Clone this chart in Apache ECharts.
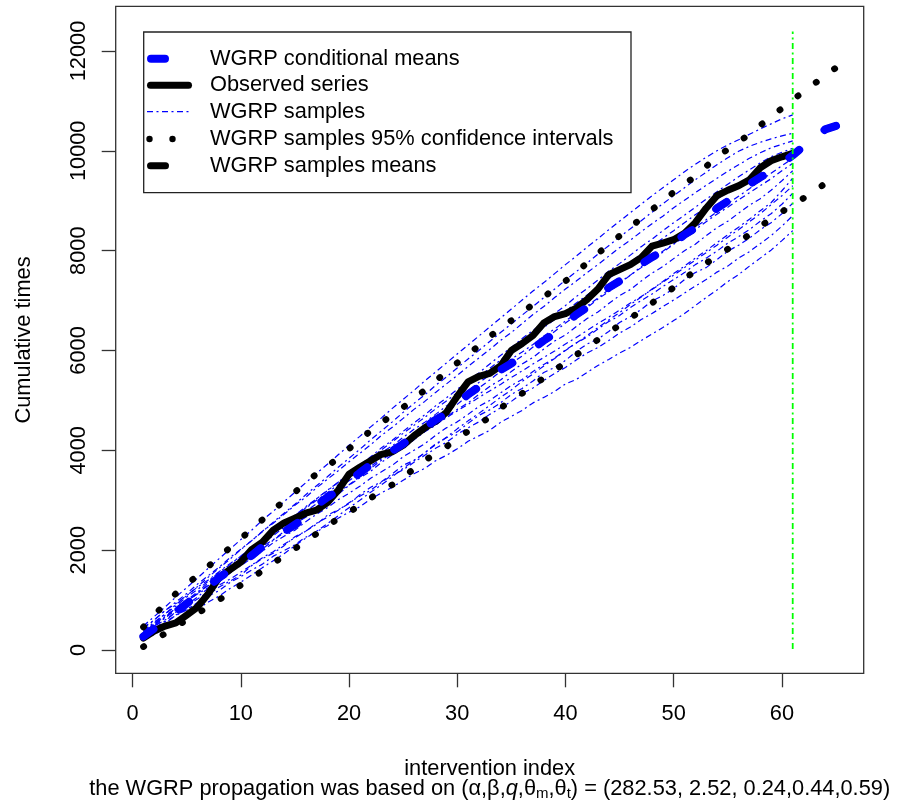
<!DOCTYPE html>
<html><head><meta charset="utf-8">
<script src="https://cdn.jsdelivr.net/npm/echarts@6/dist/echarts.min.js"></script>
<style>html,body{margin:0;padding:0;background:#fff}#c{width:903px;height:807px}</style>
</head><body><div id="c"></div>
<script>
const xTicks = [0, 10, 20, 30, 40, 50, 60];
const yTicks = [0, 2000, 4000, 6000, 8000, 10000, 12000];

const observed = [240,380,480,545,700,860,1130,1450,1610,1760,2010,2160,2400,2545,2640,2740,2800,2950,3200,3520,
3660,3790,3920,3970,4100,4290,4450,4580,4760,5080,5370,5480,5540,5690,6000,6140,6300,6550,6680,6740,
6850,7020,7230,7520,7620,7720,7860,8090,8150,8220,8350,8560,8850,9100,9210,9300,9420,9660,9800,9880,9950];

const conditionalMeans = [270,430,590,760,930,1100,1270,1450,1600,1740,1890,2070,2240,2370,2510,2650,2900,3060,3190,3380,
3550,3710,3850,3990,4130,4290,4460,4610,4740,4930,5120,5270,5420,5610,5740,5880,6040,6200,6340,6540,
6720,6860,7050,7260,7390,7530,7730,7870,7990,8150,8320,8450,8630,8850,8990,9150,9330,9470,9590,9750,
9910,10090,10240,10430,10500];

const samplesMeans = [270,430,590,760,930,1100,1270,1450,1600,1740,1890,2070,2240,2370,2510,2650,2900,3060,3190,3380,
3550,3710,3850,3990,4130,4290,4460,4610,4740,4930,5120,5270,5420,5610,5740,5880,6040,6200,6340,6540,
6720,6860,7050,7260,7390,7530,7730,7870,7990,8150,8320,8450,8630,8850,8990,9150,9330,9470,9590,9750,
9910,10090,10240,10430,10500];

const ciUpper = [461,700,920,1130,1315,1490,1675,1860,2050,2230,2420,2610,2805,2985,3160,3350,3530,3675,3850,4030,
4215,4390,4554,4705,4860,5025,5205,5390,5570,5750,5910,6100,6280,6435,6600,6765,6920,7075,7230,7390,
7567,7755,7940,8125,8295,8470,8645,8820,9001,9170,9330,9490,9685,9880,10030,10180,10330,10510,10680,10850,
11020,11185,11345,11505,11665];

const ciLower = [66,200,330,465,605,730,870,1005,1150,1300,1435,1590,1740,1885,2030,2180,2330,2490,2630,2760,
2900,3045,3175,3310,3460,3630,3800,3930,4070,4240,4380,4510,4670,4850,4990,5140,5295,5450,5605,5755,
5910,6065,6215,6355,6510,6650,6795,6950,7106,7260,7425,7605,7750,7880,8030,8180,8320,8480,8645,8780,
8915,9050,9195,9345,9460];

const sample01 = [300,420,560,690,800,950,1080,1190,1350,1470,1600,1720,1880,1990,2110,2260,2370,2490,2640,2760,2870,3020,3150,3260,3400,3530,3640,3790,3900,4030,4180,4290,4400,4560,4680,4800,4950,5060,5180,5330,5420,5560,5700,5820,5950,6060,6200,6330,6460,6600,6740,6900,7060,7210,7380,7520,7690,7850,8010,8200,8400];
const sample02 = [350,480,600,760,880,1020,1170,1300,1420,1560,1700,1850,1970,2120,2250,2380,2540,2660,2800,2950,3080,3200,3360,3500,3610,3760,3900,4040,4160,4320,4450,4570,4720,4850,4980,5140,5250,5400,5540,5660,5810,5950,6060,6200,6350,6470,6620,6740,6880,7010,7150,7290,7420,7570,7690,7850,7980,8140,8300,8490,8700];
const sample03 = [250,380,530,700,820,930,1110,1260,1380,1500,1690,1830,1940,2090,2270,2380,2520,2700,2810,2930,3110,3260,3370,3530,3700,3800,3950,4130,4250,4370,4540,4700,4810,4950,5120,5240,5390,5560,5660,5800,5980,6130,6230,6380,6560,6680,6820,6990,7100,7240,7420,7560,7660,7820,7990,8110,8250,8420,8560,8740,8950];
const sample04 = [400,520,690,830,990,1120,1250,1420,1560,1690,1840,1980,2150,2280,2400,2570,2720,2850,3010,3140,3280,3440,3570,3700,3870,4000,4130,4300,4450,4570,4720,4880,5000,5150,5300,5420,5580,5720,5850,6010,6150,6270,6430,6580,6700,6860,7000,7130,7280,7420,7560,7720,7850,7990,8150,8280,8420,8590,8740,8930,9150];
const sample05 = [300,470,640,800,980,1130,1310,1470,1640,1800,1960,2130,2290,2460,2610,2780,2930,3080,3240,3390,3540,3680,3830,3970,4100,4250,4380,4520,4650,4790,4920,5060,5190,5320,5460,5590,5730,5860,5990,6130,6260,6400,6540,6670,6810,6950,7080,7220,7370,7510,7660,7810,7960,8110,8270,8420,8580,8740,8920,9100,9300];
const sample06 = [200,310,450,560,700,820,960,1080,1230,1360,1500,1650,1790,1930,2090,2240,2380,2530,2690,2850,3000,3160,3310,3470,3640,3790,3950,4110,4260,4430,4590,4740,4900,5060,5210,5380,5530,5690,5840,6000,6150,6300,6460,6610,6760,6920,7070,7230,7380,7540,7690,7850,8000,8160,8320,8470,8630,8800,8960,9200,9450];
const sample07 = [350,520,660,830,960,1140,1290,1440,1610,1740,1900,2080,2210,2370,2530,2660,2840,2990,3120,3300,3450,3580,3760,3910,4040,4210,4370,4500,4670,4820,4950,5120,5280,5410,5580,5730,5860,6030,6190,6310,6480,6640,6770,6940,7100,7220,7390,7550,7680,7840,8000,8130,8300,8460,8590,8750,8910,9040,9210,9400,9600];
const sample08 = [450,600,790,930,1090,1260,1400,1570,1730,1880,2050,2200,2360,2530,2680,2840,3000,3150,3310,3480,3620,3790,3950,4090,4260,4420,4560,4720,4890,5030,5190,5360,5500,5660,5830,5970,6120,6290,6430,6590,6750,6890,7050,7220,7360,7510,7680,7820,7970,8130,8270,8420,8580,8730,8870,9020,9160,9300,9440,9600,9750];
const sample09 = [280,430,580,760,910,1060,1240,1390,1540,1720,1870,2020,2200,2350,2500,2680,2830,2980,3160,3310,3470,3640,3800,3950,4130,4280,4440,4610,4770,4920,5100,5250,5410,5580,5740,5890,6070,6220,6380,6550,6700,6860,7030,7180,7340,7510,7660,7820,7990,8140,8300,8470,8620,8780,8940,9090,9240,9400,9550,9700,9850];
const sample10 = [380,560,720,880,1060,1210,1380,1560,1710,1880,2050,2200,2380,2540,2700,2870,3030,3190,3360,3520,3680,3850,4010,4170,4340,4500,4660,4830,4990,5150,5320,5480,5640,5810,5970,6130,6300,6460,6620,6790,6950,7110,7280,7440,7600,7770,7930,8090,8250,8400,8560,8720,8870,9030,9180,9330,9480,9620,9760,9860,9950];
const sample11 = [320,500,650,840,1000,1160,1350,1500,1680,1850,2010,2190,2350,2520,2700,2850,3030,3200,3360,3540,3700,3870,4050,4200,4380,4550,4710,4890,5050,5220,5400,5550,5730,5900,6060,6240,6400,6570,6740,6900,7080,7240,7410,7590,7740,7910,8080,8230,8400,8560,8710,8870,9030,9180,9330,9480,9620,9760,9880,9970,10050];
const sample12 = [420,600,790,960,1130,1320,1490,1660,1850,2020,2190,2380,2540,2720,2900,3060,3250,3420,3590,3770,3940,4110,4300,4460,4640,4820,4980,5160,5330,5500,5680,5850,6020,6200,6360,6540,6720,6880,7060,7230,7390,7560,7720,7890,8060,8210,8380,8540,8690,8860,9010,9160,9310,9450,9590,9720,9850,9960,10060,10130,10200];
const sample13 = [350,540,720,910,1090,1270,1460,1640,1820,2010,2190,2370,2560,2740,2920,3110,3290,3470,3660,3840,4020,4210,4390,4570,4760,4940,5110,5300,5470,5650,5830,6000,6180,6360,6530,6710,6880,7060,7230,7410,7580,7750,7930,8100,8270,8440,8600,8770,8940,9100,9260,9420,9570,9720,9860,9990,10090,10170,10240,10300,10350];
const sample14 = [480,670,860,1060,1250,1440,1640,1830,2020,2210,2400,2600,2780,2970,3160,3350,3540,3720,3910,4100,4280,4470,4650,4840,5020,5200,5390,5570,5750,5930,6110,6290,6470,6650,6830,7010,7190,7360,7540,7720,7890,8070,8240,8420,8590,8760,8930,9100,9260,9420,9580,9730,9870,10000,10120,10220,10330,10440,10540,10640,10720];

const samples = [sample01,sample02,sample03,sample04,sample05,sample06,sample07,sample08,sample09,sample10,sample11,sample12,sample13,sample14];

const vlineX = 61;
const vlineY = [20, 12390];

const legendLabels = ['WGRP conditional means','Observed series','WGRP samples','WGRP samples 95% confidence intervals','WGRP samples means'];
const xTitle = 'intervention index';
const yTitle = 'Cumulative times';

const FONT = '"Liberation Sans", Arial, Helvetica, sans-serif';
const FS = 21.8;
const DASHDOT = [6, 3.5, 2, 3.5];
const MEANDASH = [12.5, 32.3];

function pairs(arr) { return arr.map((v, i) => [i + 1, v]); }

const series = [];
samples.forEach((s) => {
  series.push({
    type: 'line', name: 'WGRP samples', data: pairs(s), showSymbol: false, silent: true,
    lineStyle: { color: '#0000ff', width: 1.2, type: DASHDOT }, z: 2
  });
});
series.push({ type: 'line', name: 'ci upper', data: pairs(ciUpper), showSymbol: false,
  lineStyle: { color: '#000', width: 6.5, type: [0.5, 22.3], cap: 'round' }, z: 3 });
series.push({ type: 'line', name: 'ci lower', data: pairs(ciLower), showSymbol: false,
  lineStyle: { color: '#000', width: 6.5, type: [0.5, 22.3], cap: 'round' }, z: 3 });
series.push({ type: 'line', name: 'samples means', data: pairs(samplesMeans), showSymbol: false,
  lineStyle: { color: '#000', width: 7, type: MEANDASH, cap: 'round' }, z: 4 });
series.push({ type: 'line', name: 'observed', data: pairs(observed), showSymbol: false,
  lineStyle: { color: '#000', width: 7, cap: 'round', join: 'round' }, z: 5 });
series.push({ type: 'line', name: 'conditional means', data: pairs(conditionalMeans), showSymbol: false,
  lineStyle: { color: '#0000ff', width: 8, type: MEANDASH, cap: 'round' }, z: 6 });
series.push({ type: 'line', name: 'vline', data: vlineY.map(v => [vlineX, v]), showSymbol: false,
  lineStyle: { color: '#00ff00', width: 1.8, type: DASHDOT }, z: 7 });

const legY = [58.7, 85.3, 111.7, 139, 165.7];
const graphics = [
  { type: 'rect', z: 100, shape: { x: 143.7, y: 32, width: 487.3, height: 160.7 },
    style: { fill: '#fff', stroke: '#222', lineWidth: 1.3 } },
  { type: 'line', z: 101, shape: { x1: 151, y1: legY[0], x2: 165, y2: legY[0] },
    style: { stroke: '#0000ff', lineWidth: 8, lineCap: 'round' } },
  { type: 'line', z: 101, shape: { x1: 150.5, y1: legY[1], x2: 188.5, y2: legY[1] },
    style: { stroke: '#000', lineWidth: 7, lineCap: 'round' } },
  { type: 'line', z: 101, shape: { x1: 147, y1: legY[2], x2: 192, y2: legY[2] },
    style: { stroke: '#0000ff', lineWidth: 1.2, lineDash: DASHDOT } },
  { type: 'circle', z: 101, shape: { cx: 149.5, cy: legY[3], r: 3.2 }, style: { fill: '#000' } },
  { type: 'circle', z: 101, shape: { cx: 172.5, cy: legY[3], r: 3.2 }, style: { fill: '#000' } },
  { type: 'line', z: 101, shape: { x1: 150.5, y1: legY[4], x2: 165.5, y2: legY[4] },
    style: { stroke: '#000', lineWidth: 7, lineCap: 'round' } }
];
legendLabels.forEach((t, i) => {
  graphics.push({ type: 'text', z: 101, x: 210, y: legY[i],
    style: { text: t, fill: '#000', fontSize: FS, fontFamily: FONT, align: 'left', verticalAlign: 'middle' } });
});
graphics.push({ type: 'text', x: 24, y: 340, rotation: Math.PI / 2,
  style: { text: yTitle, fill: '#000', fontSize: FS, fontFamily: FONT, align: 'center', verticalAlign: 'middle' } });
graphics.push({ type: 'text', x: 489.7, y: 769,
  style: { text: xTitle, fill: '#000', fontSize: FS, fontFamily: FONT, align: 'center', verticalAlign: 'middle' } });
graphics.push({ type: 'text', x: 489.7, y: 789,
  style: {
    text: '{n|the WGRP propagation was based on (α,β,}{i|q}{n|,θ}{s|m}{n|,θ}{s|t}{n|) = (282.53, 2.52, 0.24,0.44,0.59)}',
    fill: '#000', align: 'center', verticalAlign: 'middle',
    rich: {
      n: { fontSize: FS, fontFamily: FONT, lineHeight: 24, verticalAlign: 'middle', fill: '#000' },
      i: { fontSize: FS, fontFamily: FONT, fontStyle: 'italic', lineHeight: 24, verticalAlign: 'middle', fill: '#000' },
      s: { fontSize: 15, fontFamily: FONT, lineHeight: 12, verticalAlign: 'bottom', fill: '#000' }
    }
  } });

const chart = echarts.init(document.getElementById('c'), null, { renderer: 'canvas' });
chart.setOption({
  animation: false,
  backgroundColor: '#fff',
  grid: { left: 115.7, right: 39.3, top: 6.3, bottom: 133.7, show: true, borderColor: '#333', borderWidth: 1.3,
          backgroundColor: 'transparent', containLabel: false, outerBoundsMode: 'none' },
  xAxis: {
    type: 'value', min: -1.56, max: 67.56,
    axisLine: { show: false, onZero: false },
    splitLine: { show: false },
    axisTick: { show: true, inside: false, length: 14, customValues: xTicks, lineStyle: { color: '#333', width: 1.3 } },
    axisLabel: { customValues: xTicks, margin: 30, fontSize: FS, fontFamily: FONT, color: '#000',
                 formatter: v => String(v) }
  },
  yAxis: {
    type: 'value', min: -467, max: 12895,
    axisLine: { show: false, onZero: false },
    splitLine: { show: false },
    axisTick: { show: true, inside: false, length: 14, customValues: yTicks, lineStyle: { color: '#333', width: 1.3 } },
    axisLabel: { customValues: yTicks, margin: 26, rotate: 90, fontSize: FS, fontFamily: FONT, color: '#000',
                 formatter: v => String(v) }
  },
  graphic: graphics,
  series: series
});
</script>
</body></html>
